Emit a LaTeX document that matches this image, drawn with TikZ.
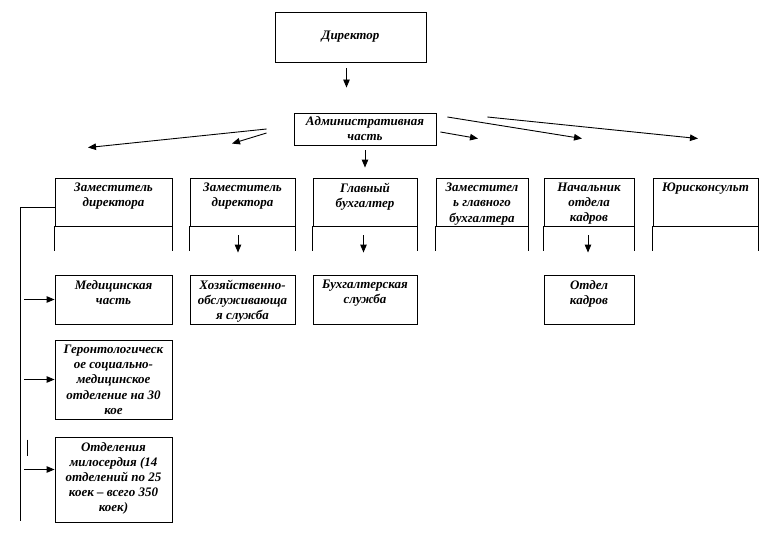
\documentclass[tikz,border=0pt]{standalone}
\usepackage{fontspec}
\setmainfont{Liberation Serif}
\usetikzlibrary{arrows.meta}

\begin{document}
\begin{tikzpicture}[x=1pt, y=-1pt, line width=0.9pt, >={Triangle[length=8pt,width=6.5pt]}]

	\tikzstyle{unit} = [rectangle, draw, inner sep=0pt, align=center, font=\fontsize{13}{15}\selectfont\bfseries\itshape]
	\tikzstyle{txt} = [anchor=north, align=center, inner sep=0pt, yshift=-5pt, font=\fontsize{13}{15.2}\selectfont\bfseries\itshape]
	\tikzstyle{head} = [unit, minimum height=48pt]
	\tikzstyle{sub} = [unit, minimum height=49pt]

	\useasboundingbox (0,0) rectangle (780,543);

	% Define nodes
	\node[unit, minimum width=151pt, minimum height=50pt] (dir) at (350.5,37) {Директор};
	\node[unit, minimum width=142pt, minimum height=32pt] (adm) at (365,129) {Административная\\часть};

	\node[head, minimum width=117pt, label={[txt]north:{Заместитель\\директора}}] (zam1) at (113.5,202) {};
	\node[head, minimum width=105pt, label={[txt]north:{Заместитель\\директора}}] (zam2) at (242.5,202) {};
	\node[head, minimum width=104pt, label={[txt]north:{Главный\\бухгалтер}}] (glav) at (365,202) {};
	\node[head, minimum width=92pt, label={[txt]north:{Заместител\\ь главного\\бухгалтера}}] (zamgb) at (482,202) {};
	\node[head, minimum width=90pt, label={[txt]north:{Начальник\\отдела\\кадров}}] (nachok) at (589,202) {};
	\node[head, minimum width=105pt, label={[txt]north:{Юрисконсульт}}] (jur) at (705.5,202) {};

	\node[sub, minimum width=117pt, label={[txt]north:{Медицинская\\часть}}] (med) at (113.5,299.5) {};
	\node[sub, minimum width=105pt, label={[txt]north:{Хозяйственно-\\обслуживающа\\я служба}}] (hoz) at (242.5,299.5) {};
	\node[sub, minimum width=104pt, label={[txt]north:{Бухгалтерская\\служба}}] (buh) at (365,299.5) {};
	\node[sub, minimum width=90pt, label={[txt]north:{Отдел\\кадров}}] (okadr) at (589,299.5) {};
	\node[unit, minimum width=117pt, minimum height=79pt, label={[txt]north:{Геронтологическ\\ое социально-\\медицинское\\отделение на 30\\кое}}] (geront) at (113.5,379.5) {};
	\node[unit, minimum width=117pt, minimum height=85pt, label={[txt]north:{Отделения\\милосердия (14\\отделений по 25\\коек – всего 350\\коек)}}] (milos) at (113.5,479.5) {};

	% open lower part of the head boxes
	\foreach \n in {zam1,zam2,glav,zamgb,nachok,jur} {
		\draw (\n.south west) -- ++(0,25);
		\draw (\n.south east) -- ++(0,25);
	}

	% Draw arrows
	\draw[->, shorten <=6pt, shorten >=25pt] ([xshift=-4pt]dir.south) -- ([xshift=-4pt]dir.south |- adm.north);

	\draw[->] ([xshift=-27pt]adm.west) -- ([xshift=-25.5pt,yshift=30pt]zam1.north);
	\draw[->] ([xshift=-27pt,yshift=-4pt]adm.west) -- ([xshift=-10.5pt,yshift=34pt]zam2.north);
	\draw[->, shorten <=5pt, shorten >=10pt] (adm.south) -- (adm.south |- glav.north);
	\draw[->] ([xshift=4pt,yshift=-3pt]adm.east) -- ([xshift=-4pt,yshift=39pt]zamgb.north);
	\draw[->] ([xshift=11pt,yshift=12pt]adm.east) -- ([xshift=-7pt,yshift=39pt]nachok.north);
	\draw[->] ([xshift=51pt,yshift=12pt]adm.east) -- ([xshift=-7.5pt,yshift=39pt]jur.north);

	\draw[->, shorten <=9pt, shorten >=22pt] ([xshift=-4.5pt]zam2.south) -- ([xshift=-4.5pt]hoz.north);
	\draw[->, shorten <=9pt, shorten >=22pt] ([xshift=-1.5pt]glav.south) -- ([xshift=-1.5pt]buh.north);
	\draw[->, shorten <=9pt, shorten >=22pt] ([xshift=-1pt]nachok.south) -- ([xshift=-1pt]okadr.north);

	% left line to the departments
	\coordinate (spine) at (20,207);
	\coordinate (spineend) at (20,521);
	\draw (zam1.west |- spine) -- (spine) -- (spineend);
	\draw[->] ([xshift=4pt]spine |- med.west) -- (med.west);
	\draw[->] ([xshift=4pt]spine |- geront.west) -- (geront.west);
	\draw[->] ([xshift=4pt,yshift=10pt]spine |- milos.west) -- ([yshift=10pt]milos.west);
	\draw ([xshift=-27pt,yshift=-3pt]milos.north west) -- ++(0,16);

\end{tikzpicture}
\end{document}
